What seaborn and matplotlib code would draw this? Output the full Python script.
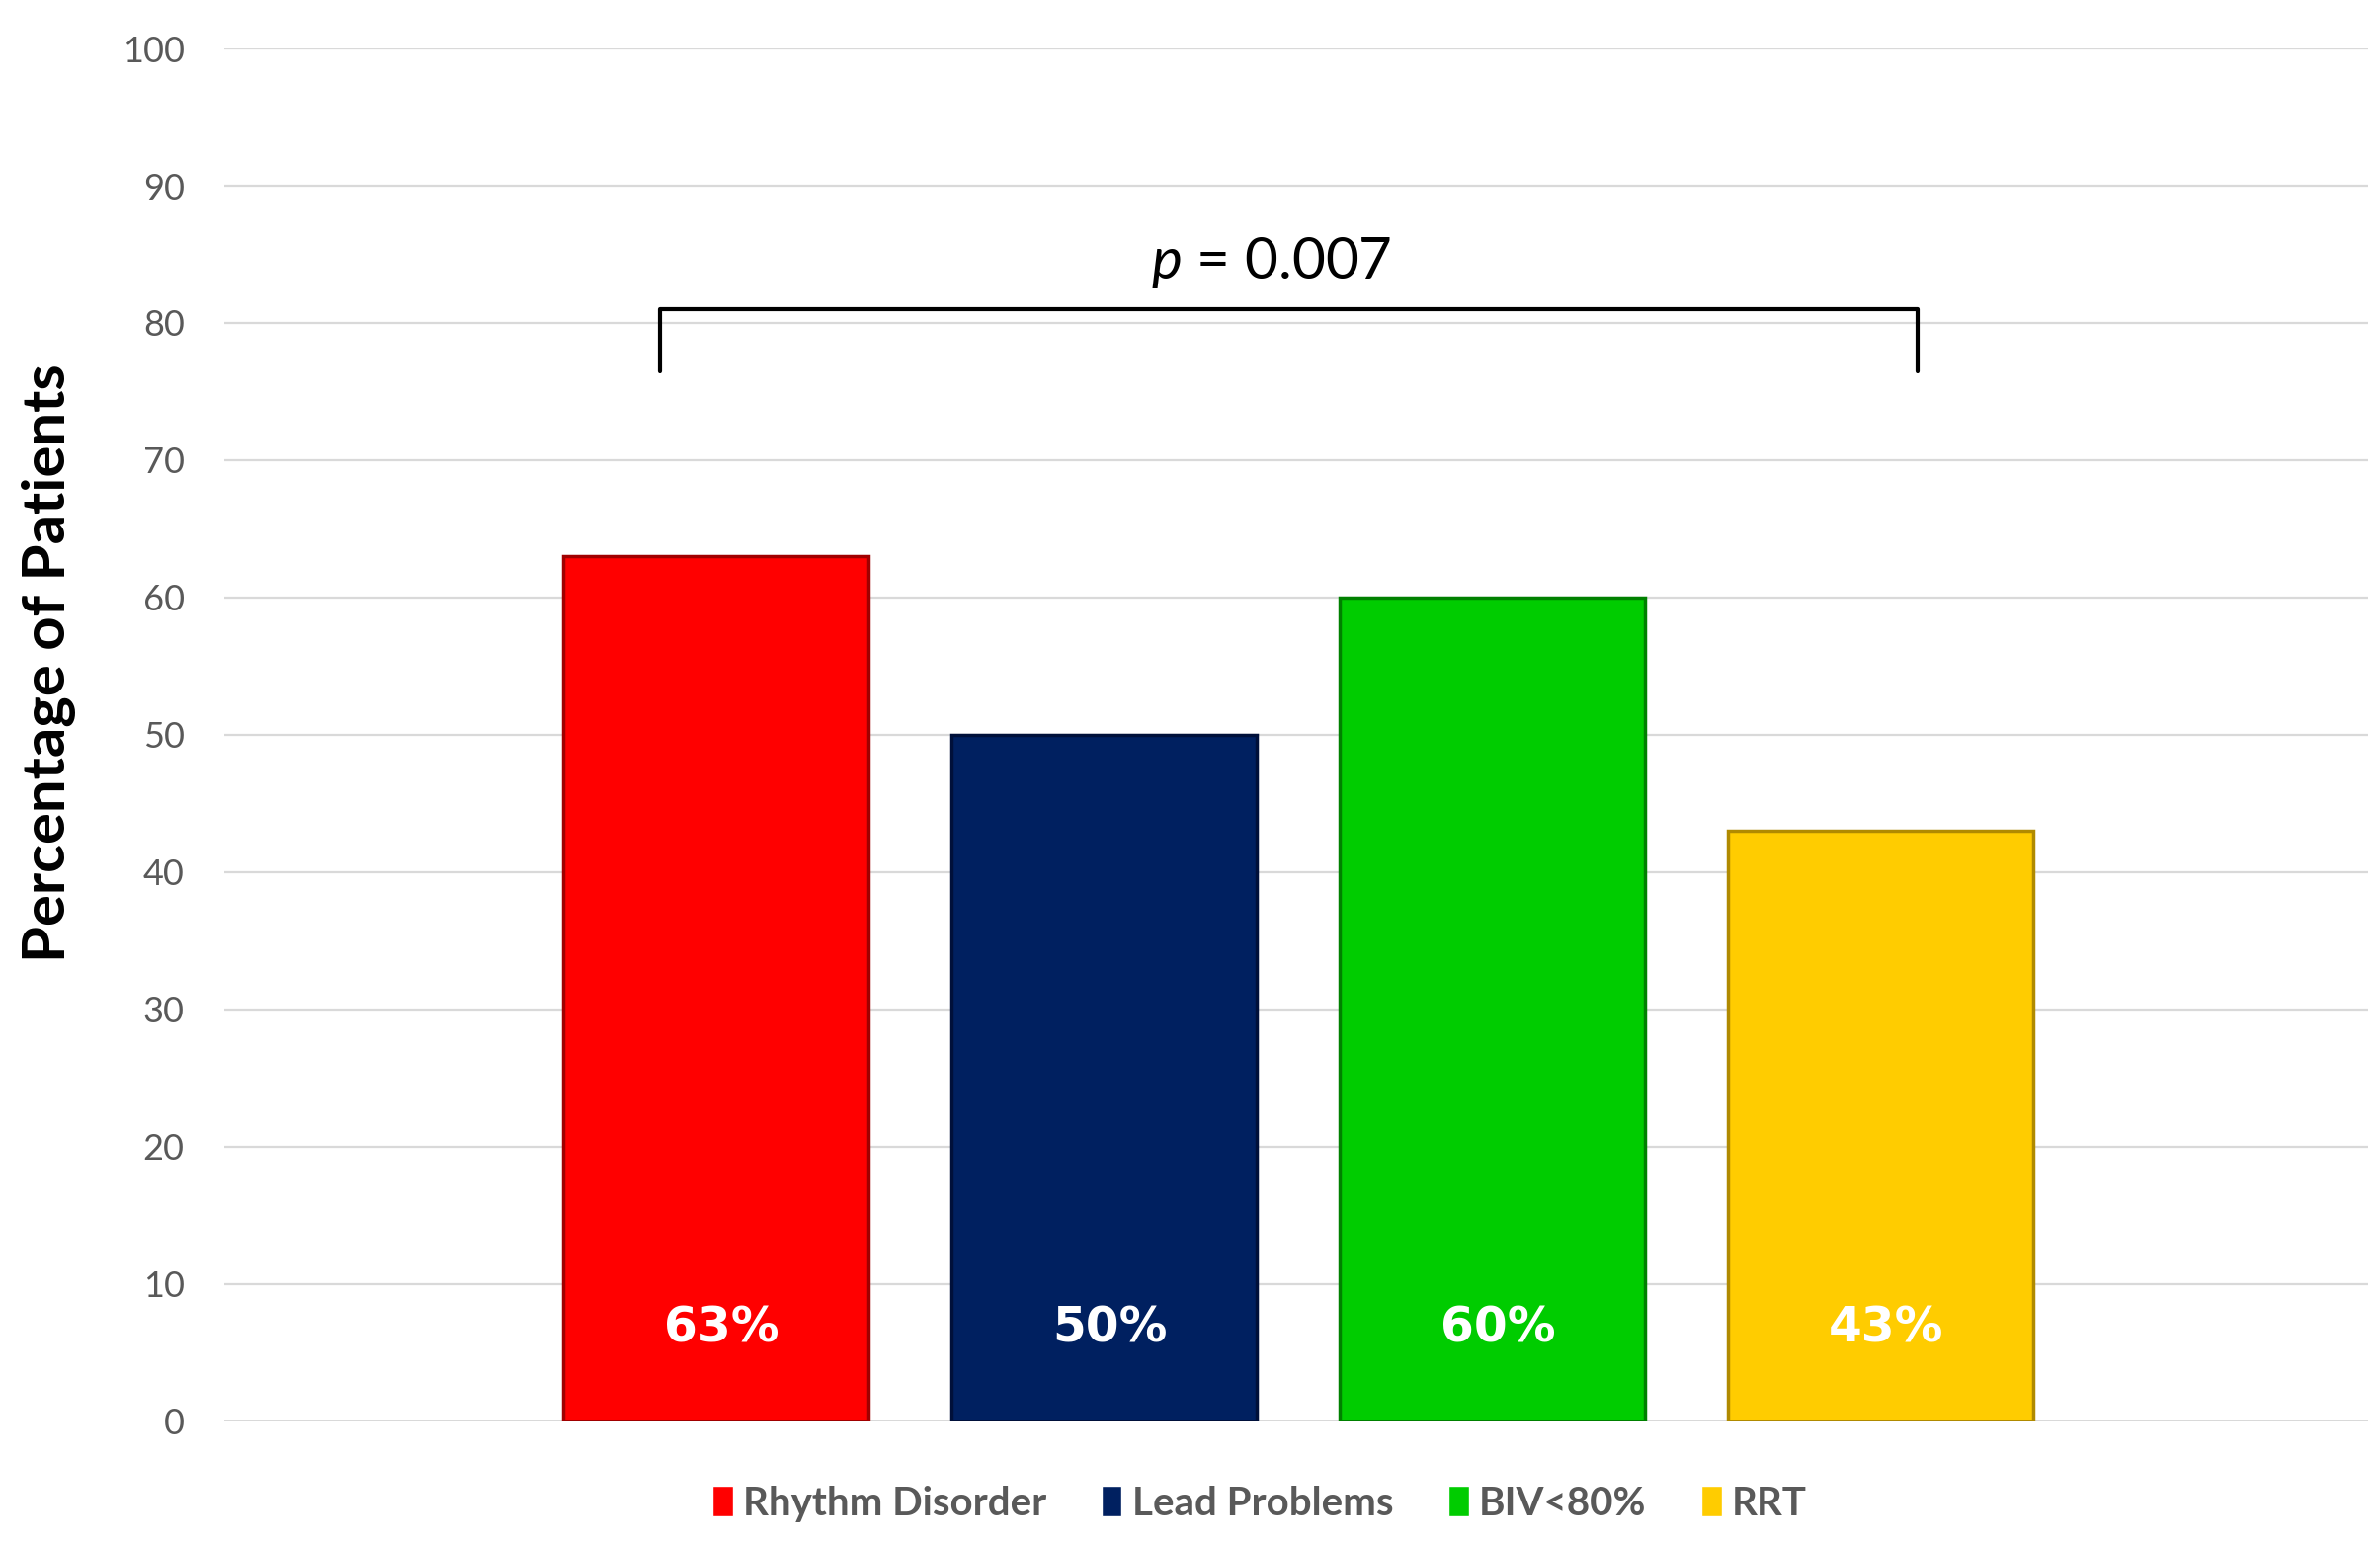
import matplotlib
matplotlib.use("Agg")
import matplotlib.pyplot as plt
import seaborn as sns

# ── data ──────────────────────────────────────────────────────────────────────
categories   = ["Rhythm Disorder", "Lead Problems", "BIV<80%", "RRT"]
values       = [63, 50, 60, 43]
value_labels = ["63%", "50%", "60%", "43%"]
bar_colors   = ["#FF0000", "#002060", "#00CC00", "#FFCC00"]
edge_colors  = ["#A00000", "#00103A", "#008000", "#B08A00"]
y_ticks      = [0, 10, 20, 30, 40, 50, 60, 70, 80, 90, 100]
p_text       = r"$p$ = 0.007"

# ── figure ────────────────────────────────────────────────────────────────────
sns.set_style("white")
plt.rcParams["font.family"] = ["Lato", "DejaVu Sans"]
plt.rcParams["mathtext.fontset"] = "custom"
plt.rcParams["mathtext.it"] = "Lato:italic"

fig = plt.figure(figsize=(24.09, 15.61), dpi=100)
ax = fig.add_axes([0.0942, 0.0782, 0.9008, 0.8904])

sns.barplot(x=categories, y=values, hue=categories, palette=bar_colors,
            width=0.786, dodge=False, legend=True, ax=ax, saturation=1)

for patch, ec in zip(ax.patches, edge_colors):
    patch.set_edgecolor(ec)
    patch.set_linewidth(2.5)

# value labels sit near the bottom of each bar
for i, lab in enumerate(value_labels):
    ax.text(i + 0.015, 6.8, lab, ha="center", va="center", color="white",
            fontsize=35, fontweight="bold", family="DejaVu Sans")

# significance bracket
bx0, bx1, by_top, by_bot = -0.142, 3.094, 81.0, 76.5
ax.plot([bx0, bx0, bx1, bx1], [by_bot, by_top, by_top, by_bot],
        color="black", lw=3, solid_joinstyle="round", zorder=5)
ax.text(1.43, 84.4, p_text, ha="center", va="center", fontsize=42, color="black")

ax.set_xlim(-1.265, 4.255)
ax.set_ylim(0, 100)
ax.set_yticks(y_ticks)
ax.set_xticks([])
ax.set_xlabel("")
ax.set_ylabel("")
ax.tick_params(axis="y", length=0, pad=29, labelsize=26, labelcolor="#595959")
ax.grid(axis="y", color="#D9D9D9", lw=1.6)
ax.set_axisbelow(True)
sns.despine(ax=ax, left=True, bottom=True)

fig.text(0.0205, 0.57, "Percentage of Patients", rotation=90, ha="center",
         va="center", fontsize=43, fontweight="bold", color="black")

sns.move_legend(ax, "center", bbox_to_anchor=(0.483, -0.06), ncol=4,
                frameon=False, title=None, fontsize=29, handlelength=0.5,
                handleheight=0.8, handletextpad=0.25, columnspacing=1.4)
for txt in ax.get_legend().get_texts():
    txt.set_color("#595959")
    txt.set_fontweight("bold")

fig.savefig("out.png", dpi=100)
